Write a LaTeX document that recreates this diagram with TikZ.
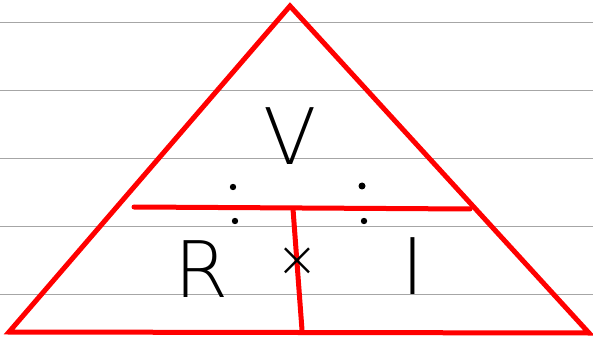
\documentclass[tikz,border=0pt]{standalone}
\usepackage{fontspec}
\setmainfont{DejaVu Sans ExtraLight}
\begin{document}
\begin{tikzpicture}[x=1pt,y=-1pt,
  ruled/.style={draw=black!35, line width=0.8pt},
  redline/.style={draw=red, line width=5pt, line cap=round, line join=miter},
  letter/.style={font=\fontsize{78}{78}\selectfont, inner sep=0pt, text=black},
  dotmark/.style={fill=black, draw=none}]
\useasboundingbox (0,0) rectangle (593,344);
\fill[white] (0,0) rectangle (593,344);
% ruled paper lines
\foreach \yy in {22,90,158,226,294}
  \draw[ruled] (0,\yy) -- (593,\yy);
% triangle
\coordinate (apex) at (290,6);
\coordinate (bl) at (9,332);
\coordinate (br) at (589,333);
\draw[redline] (apex) -- (br) -- (bl) -- cycle;
% inner bars
\coordinate (hl) at (134,207);
\coordinate (hr) at (470,209);
\coordinate (vt) at (293,209);
\coordinate (vb) at (302,330);
\draw[redline] (hl) -- (hr);
\draw[redline] (vt) -- (vb);
% letters
\node[letter] (V) at (290,136) {V};
\node[letter] (R) at (202,269) {R};
\node[letter] (I) at (413,266) {I};
\node[font=\fontsize{50}{50}\selectfont, inner sep=0pt] (times) at (297,262) {×};
% division dots
\fill[dotmark] (233,187) circle (3.2pt);
\fill[dotmark] (362,186) circle (3.5pt);
\fill[dotmark] (235,221) circle (3.2pt);
\fill[dotmark] (364,221) circle (3.2pt);
\end{tikzpicture}
\end{document}
